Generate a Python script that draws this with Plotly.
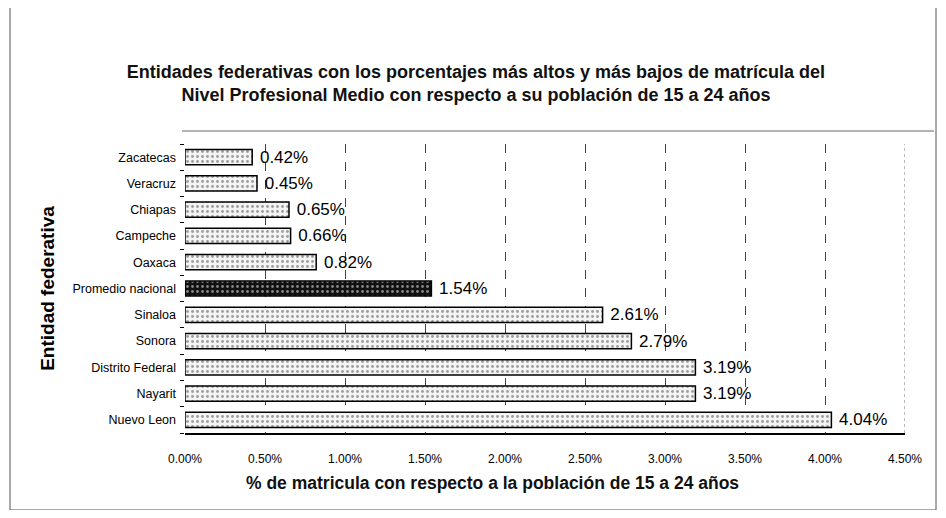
import plotly.graph_objects as go

categories = ["Zacatecas", "Veracruz", "Chiapas", "Campeche", "Oaxaca",
              "Promedio nacional", "Sinaloa", "Sonora", "Distrito Federal",
              "Nayarit", "Nuevo Leon"]
values = [0.42, 0.45, 0.65, 0.66, 0.82, 1.54, 2.61, 2.79, 3.19, 3.19, 4.04]
tick_vals = [0, 0.5, 1.0, 1.5, 2.0, 2.5, 3.0, 3.5, 4.0, 4.5]
tick_text = ["0.00%", "0.50%", "1.00%", "1.50%", "2.00%", "2.50%",
             "3.00%", "3.50%", "4.00%", "4.50%"]
highlight = "Promedio nacional"
x_title = "% de matricula con respecto a la población de 15 a 24 años"

fills = ["#111111" if c == highlight else "#f4f4f4" for c in categories]
pfg = ["#666666" if c == highlight else "#9a9a9a" for c in categories]

# page body has an 8px margin; figure sized to fit the window
OFF = 8
W, H = 946 - 2 * OFF, 518 - 2 * OFF
PX0, PX1, PY0, PY1 = 185, 905, 144, 433   # target plot area on screen
L, R, T, B = PX0 - OFF, W - (PX1 - OFF), PY0 - OFF, H - (PY1 - OFF)
pw, ph = W - L - R, H - T - B

def px_x(x): return (x - OFF - L) / pw
def px_y(y): return (H - B - (y - OFF)) / ph

fig = go.Figure(go.Bar(
    y=categories, x=values, orientation="h",
    marker=dict(color=fills, line=dict(color="#000000", width=1.5),
                pattern=dict(shape=".", fgcolor=pfg, size=5, solidity=0.25)),
    texttemplate=" %{x:.2f}%", textposition="outside",
    constraintext="none",
    textfont=dict(family="Liberation Sans, Arial", size=17, color="#000"),
    cliponaxis=False,
))

fig.update_layout(
    width=W, height=H,
    margin=dict(l=L, r=R, t=T, b=B),
    paper_bgcolor="white", plot_bgcolor="white",
    showlegend=False, bargap=0.42,
    font=dict(family="Liberation Sans, Arial", color="#000"),
    title=dict(
        text="<b>Entidades federativas con los porcentajes más altos y más bajos de matrícula del<br>Nivel Profesional Medio con respecto a su población de 15 a 24 años</b>",
        x=(476 - OFF) / W, xanchor="center", xref="container",
        y=1 - (78 - OFF) / H, yanchor="top",
        font=dict(size=18, color="#111"),
    ),
    xaxis=dict(range=[0, 4.5], tickvals=tick_vals, ticktext=tick_text,
               tickfont=dict(size=12), showgrid=True, gridcolor="#444",
               griddash="dash", gridwidth=1, zeroline=False,
               showline=True, linecolor="#000", linewidth=1.5,
               ticks="", ticklen=0, ticklabelstandoff=14),
    yaxis=dict(categoryorder="array", categoryarray=categories[::-1],
               autorange=False, range=[-0.5, len(categories) - 0.5],
               tickfont=dict(size=12.5), showgrid=False, zeroline=False,
               showline=False, ticks="outside", ticklen=4, tickcolor="#000",
               tickson="boundaries", ticklabelstandoff=8,
               title=dict(text="<b>Entidad federativa</b>", font=dict(size=19),
                          standoff=12)),
    annotations=[dict(text=f"<b>{x_title}</b>", xref="paper", yref="paper",
                      x=px_x(492), y=px_y(483), xanchor="center", yanchor="middle",
                      showarrow=False, font=dict(size=17.5, color="#111"))],
    shapes=[
        dict(type="rect", xref="paper", yref="paper",
             x0=px_x(10), x1=px_x(936), y0=px_y(510), y1=px_y(3),
             line=dict(color="#555", width=1)),
        dict(type="line", xref="paper", yref="paper",
             x0=px_x(182), x1=px_x(934), y0=px_y(131), y1=px_y(131),
             line=dict(color="#666", width=1)),
        dict(type="line", xref="x", yref="paper", x0=4.5, x1=4.5, y0=0, y1=1,
             line=dict(color="#777", width=1, dash="dot")),
    ],
)

fig.write_html("out.html")
